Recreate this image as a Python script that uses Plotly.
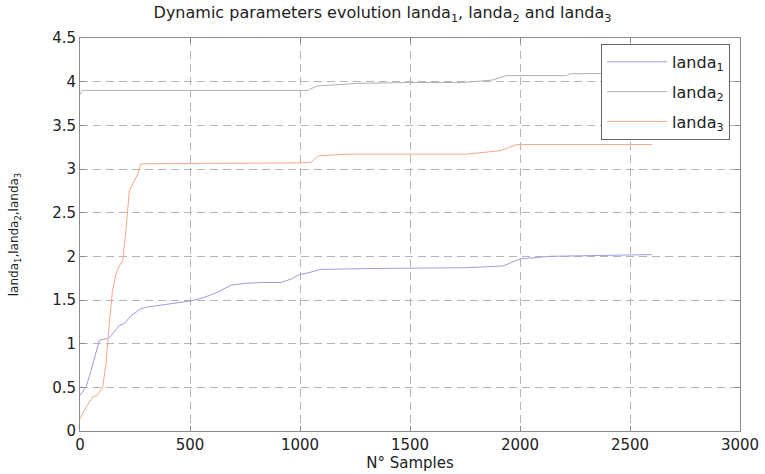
import plotly.graph_objects as go

landa1_x = [0, 27, 50, 88, 126, 141, 179, 201, 232, 277, 308, 414, 505, 565, 626, 686, 747, 823, 914, 959, 997, 1035, 1095, 1303, 1758, 1924, 2000, 2136, 2485, 2600]
landa1_y = [0.41, 0.50, 0.69, 1.04, 1.06, 1.09, 1.21, 1.23, 1.32, 1.40, 1.42, 1.46, 1.49, 1.53, 1.59, 1.67, 1.69, 1.70, 1.70, 1.74, 1.79, 1.81, 1.85, 1.86, 1.87, 1.89, 1.97, 2.00, 2.02, 2.02]

landa2_x = [0, 10, 1036, 1076, 1258, 1500, 1742, 1879, 1939, 2212, 2227, 2600]
landa2_y = [3.85, 3.90, 3.90, 3.95, 3.98, 3.99, 3.99, 4.02, 4.07, 4.07, 4.09, 4.10]

landa3_x = [0, 27, 58, 80, 103, 118, 133, 148, 164, 179, 194, 209, 224, 247, 262, 277, 1000, 1053, 1083, 1212, 1758, 1909, 1985, 2600]
landa3_y = [0.14, 0.27, 0.39, 0.41, 0.50, 0.77, 1.23, 1.61, 1.80, 1.89, 1.95, 2.30, 2.75, 2.87, 2.94, 3.06, 3.07, 3.08, 3.15, 3.17, 3.17, 3.21, 3.28, 3.28]

x_ticks = [0, 500, 1000, 1500, 2000, 2500, 3000]
y_ticks = [0, 0.5, 1, 1.5, 2, 2.5, 3, 3.5, 4, 4.5]

FONT = "DejaVu Sans, Arial, sans-serif"

fig = go.Figure()
fig.add_trace(go.Scatter(x=landa1_x, y=landa1_y, mode="lines", name="landa<sub>1</sub>",
                         line=dict(color="#9a9ce6", width=1), legendgroup="a"))
fig.add_trace(go.Scatter(x=landa2_x, y=landa2_y, mode="lines", name="landa<sub>2</sub>",
                         line=dict(color="#aab5ae", width=1), legendgroup="b"))
fig.add_trace(go.Scatter(x=landa3_x, y=landa3_y, mode="lines", name="landa<sub>3</sub>",
                         line=dict(color="#f5a88c", width=1), legendgroup="c"))

axis_common = dict(
    showline=True, linecolor="#8a8a8a", linewidth=1, mirror="ticks",
    ticks="inside", ticklen=5, tickcolor="#8a8a8a",
    showgrid=True, gridcolor="#b5b5b5", griddash="8px,5px", gridwidth=1,
    zeroline=False, tickfont=dict(family=FONT, size=15, color="#222222"),
)

fig.update_layout(
    width=765, height=474,
    margin=dict(l=80, r=25, t=38, b=43),
    paper_bgcolor="white", plot_bgcolor="white",
    title=dict(text="Dynamic parameters evolution landa<sub>1</sub>, landa<sub>2</sub> and landa<sub>3</sub>",
               x=0.5, xanchor="center", y=0.985, yanchor="top",
               font=dict(family=FONT, size=16, color="#222222")),
    xaxis=dict(range=[0, 3000], tickvals=x_ticks, ticktext=[str(v) for v in x_ticks],
               title=dict(text="N° Samples", standoff=0, font=dict(family=FONT, size=15, color="#222222")),
               automargin=False, **axis_common),
    yaxis=dict(range=[0, 4.5], tickvals=y_ticks, ticktext=[("%g" % v) for v in y_ticks],
               title=dict(text="landa<sub>1</sub>,landa<sub>2</sub>,landa<sub>3</sub>", standoff=30,
                          font=dict(family=FONT, size=12, color="#222222")),
               automargin=False, **axis_common),
    legend=dict(x=0.985, y=0.985, xanchor="right", yanchor="top",
                bgcolor="white", bordercolor="#666666", borderwidth=1,
                font=dict(family=FONT, size=16, color="#222222"),
                tracegroupgap=6, itemwidth=60),
    showlegend=True,
)

fig.write_html("out.html")
